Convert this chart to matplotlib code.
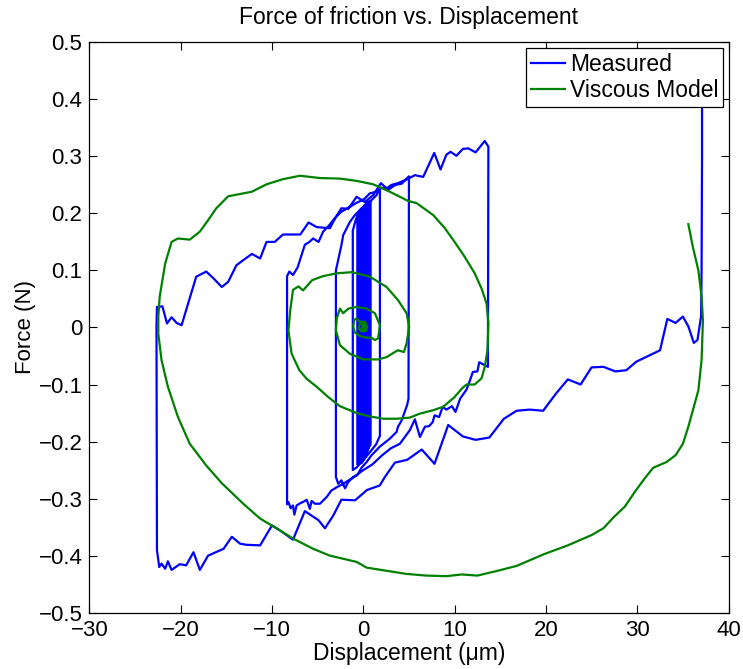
import matplotlib
matplotlib.use('Agg')
import matplotlib.pyplot as plt

plt.rcParams['font.family'] = ['Liberation Sans', 'DejaVu Sans']

# measured friction force (N) vs displacement (um), traced
meas_x = [37.1, 37.1, 37.05, 37.0, 36.6, 36.2, 35.6, 35.0, 34.2, 33.3, 32.5, 30.95, 29.9, 28.8, 27.6, 26.3,
          25.0, 23.8, 22.4, 21.1, 19.7, 18.2, 16.8, 15.4, 13.8, 12.3, 10.9, 9.3, 7.8, 6.4, 4.8, 3.46,
          2.37, 1.8, 0.4, -0.9, -2.4, -3.3, -4.2, -4.9, -6.4, -7.7, -9.1, -10.0, -11.3, -12.8, -13.5, -14.4,
          -15.3, -17.0, -17.9, -18.6, -19.4, -20.1, -21.0, -21.4, -21.7, -22.1, -22.35, -22.6, -22.65, -22.6,
          -22.0, -21.5, -21.0, -20.45, -19.9, -18.3, -17.2, -16.4, -15.5, -14.8, -13.9, -13.15, -12.2, -11.3,
          -10.6, -9.7, -8.8, -6.9, -6.0, -5.1, -3.66, -3.1, -2.4, -1.65, -0.73, 0.18, 1.08, 1.93, 2.55, 3.1,
          3.8, 4.8, 5.65, 6.56, 7.77, 8.46, 9.1, 9.56, 10.2, 10.9, 11.5, 12.3, 13.3, 13.7,
          13.65, 12.7, 12.5, 12.0, 11.7, 11.3, 10.6, 10.1, 9.7, 9.1, 8.7, 8.3, 7.8, 7.6, 7.2, 6.75, 6.2,
          5.65, 5.1, 4.0, 3.0, 2.0, 1.0, 0.0, -1.0, -1.8, -2.4, -2.9, -3.5, -4.0, -4.75, -5.3, -5.66, -5.85,
          -6.2, -6.6, -6.9, -7.3, -7.55, -7.7, -7.95, -8.2, -8.35, -8.35, -8.1, -7.7, -7.2, -6.4, -5.9, -5.5,
          -4.9, -4.4, -3.8, -3.1, -2.4, -1.6, -0.8, 0.1, 0.7, 1.4, 2.0, 2.8, 3.5, 4.2, 5.0,
          4.95, 4.8, 4.2, 3.8, 3.65, 2.9, 1.8, 1.45, 0.9, 0.36, -0.2, -0.67, -1.1, -1.65, -2.0, -2.4, -2.75,
          -3.0, -3.0, -2.75, -2.4, -2.2, -1.47, -0.92, -0.37, 0.36, 0.9, 1.45, 1.82,
          1.82, 1.4, 0.9, 0.4, -0.2, -0.7, -1.15, -1.15, -0.8, -0.3, 0.3, 0.8,
          0.8, 0.3, -0.3, -0.65, -0.65, -0.2, 0.3, 0.6, 0.6, 0.1, -0.5, -0.5, 0.0, 0.5, 0.5, 0.0, -0.4,
          -0.4, 0.1, 0.4, 0.4, -0.3, -0.3, 0.3, 0.3, -0.2, -0.2, 0.2, 0.2, -0.1, -0.1, 0.1, 0.1, 0.0, 0.0]
meas_y = [0.47, 0.30, 0.10, 0.02, -0.022, -0.027, 0.002, 0.019, 0.008, 0.015, -0.04, -0.052, -0.06, -0.075, -0.077, -0.069,
          -0.07, -0.1, -0.091, -0.116, -0.146, -0.144, -0.146, -0.16, -0.193, -0.197, -0.191, -0.171, -0.239, -0.214, -0.232, -0.237,
          -0.262, -0.277, -0.285, -0.303, -0.302, -0.33, -0.352, -0.338, -0.322, -0.372, -0.356, -0.347, -0.382, -0.381, -0.379, -0.367,
          -0.388, -0.4, -0.425, -0.394, -0.417, -0.415, -0.425, -0.41, -0.423, -0.414, -0.42, -0.39, 0.0, 0.036,
          0.037, 0.007, 0.018, 0.008, 0.004, 0.089, 0.098, 0.086, 0.071, 0.08, 0.109, 0.118, 0.129, 0.121,
          0.15, 0.15, 0.163, 0.163, 0.184, 0.176, 0.174, 0.191, 0.209, 0.208, 0.229, 0.22, 0.232, 0.253, 0.244, 0.25,
          0.253, 0.26, 0.267, 0.264, 0.306, 0.277, 0.303, 0.308, 0.301, 0.313, 0.314, 0.307, 0.327, 0.317,
          -0.069, -0.061, -0.077, -0.078, -0.092, -0.109, -0.125, -0.148, -0.138, -0.144, -0.139, -0.157, -0.154, -0.166, -0.173, -0.174, -0.192,
          -0.161, -0.18, -0.204, -0.212, -0.225, -0.24, -0.25, -0.262, -0.27, -0.276, -0.28, -0.286, -0.297, -0.309, -0.309, -0.304, -0.318,
          -0.302, -0.306, -0.308, -0.312, -0.328, -0.312, -0.317, -0.306, -0.31, 0.09, 0.098, 0.092, 0.105, 0.145, 0.15, 0.156,
          0.15, 0.168, 0.178, 0.192, 0.203, 0.21, 0.218, 0.225, 0.235, 0.238, 0.245, 0.242, 0.25, 0.252, 0.265,
          -0.125, -0.136, -0.163, -0.174, -0.183, -0.195, -0.209, -0.215, -0.224, -0.236, -0.246, -0.259, -0.262, -0.271, -0.282, -0.268, -0.274,
          -0.262, 0.10, 0.118, 0.144, 0.162, 0.185, 0.197, 0.206, 0.218, 0.223, 0.232, 0.245,
          -0.19, -0.205, -0.215, -0.225, -0.235, -0.245, -0.25, 0.17, 0.19, 0.205, 0.215, 0.222,
          -0.205, -0.22, -0.235, -0.24, 0.195, 0.205, 0.212, 0.218, -0.21, -0.225, -0.24, 0.2, 0.21, 0.215, -0.215, -0.23, -0.238,
          0.205, 0.212, 0.215, -0.22, -0.238, 0.205, 0.212, -0.225, -0.238, 0.208, 0.212, -0.228, -0.235, 0.208, 0.21, -0.23, -0.232, 0.0]

# viscous model spiral
model_x = [35.6, 36.1, 36.7, 37.05, 37.2, 37.05, 36.7, 36.1, 35.6, 35.0, 34.2, 33.2, 31.75, 30.8, 29.75, 28.65,
           27.4, 26.3, 25.0, 22.4, 19.7, 18.25, 16.8, 14.6, 12.5, 10.8, 9.1, 6.9, 4.7, 0.36, -0.73, -3.66,
           -5.5, -7.7, -9.1, -11.3, -13.15, -15.5, -17.2, -19.0, -20.3, -21.4, -22.1, -22.45, -22.45, -22.3,
           -21.7, -21.0, -20.3, -19.0, -17.9, -17.0, -16.1, -14.8, -12.2, -10.6, -8.8, -6.94, -4.75, -2.56,
           -0.73, 1.08, 2.9, 4.9, 5.84, 7.66, 8.94, 10.0, 11.1, 12.2, 12.96, 13.5, 13.7, 13.6, 13.3, 12.96,
           12.2, 11.3, 10.8, 10.0, 8.75, 7.66, 6.2, 5.1, 3.65, 2.2, 0.72, -0.73, -2.56, -3.84, -5.1, -6.2,
           -7.0, -7.85, -8.2, -8.0, -7.7, -7.1, -6.6, -5.6, -4.4, -2.9, -1.2, 0.72, 2.55, 3.8, 4.74, 5.03,
           4.74, 4.45, 3.8, 3.46, 2.55, 1.63, 0.0, -1.47, -2.56, -3.0, -2.9, -2.56, -2.2, -1.65, -0.73, 0.36,
           1.27, 1.82, 1.63, 1.27, 0.9, 0.36, -0.37, -0.92, -1.1, -1.0, -0.73, -0.4, 0.18, 0.43, 0.3, -0.2,
           -0.5, -0.4, 0.0, 0.25, 0.1, -0.2, -0.1, 0.05]
model_y = [0.181, 0.141, 0.10, 0.054, 0.013, -0.057, -0.11, -0.145, -0.174, -0.204, -0.224, -0.236, -0.246, -0.265, -0.288, -0.314,
           -0.333, -0.352, -0.364, -0.382, -0.398, -0.408, -0.418, -0.427, -0.435, -0.433, -0.436, -0.435, -0.432, -0.421, -0.411, -0.4,
           -0.388, -0.37, -0.356, -0.335, -0.309, -0.273, -0.242, -0.204, -0.157, -0.104, -0.057, -0.011, 0.019, 0.054,
           0.112, 0.15, 0.156, 0.154, 0.168, 0.188, 0.209, 0.23, 0.238, 0.251, 0.26, 0.266, 0.262, 0.261,
           0.257, 0.251, 0.238, 0.222, 0.218, 0.197, 0.174, 0.15, 0.124, 0.095, 0.068, 0.042, 0.007, -0.04, -0.069, -0.089,
           -0.1, -0.1, -0.107, -0.122, -0.139, -0.145, -0.151, -0.158, -0.16, -0.16, -0.156, -0.15, -0.138, -0.122, -0.104, -0.09,
           -0.075, -0.046, -0.005, 0.03, 0.066, 0.072, 0.065, 0.083, 0.09, 0.095, 0.097, 0.089, 0.071, 0.048, 0.025, 0.001,
           -0.028, -0.043, -0.04, -0.043, -0.052, -0.056, -0.056, -0.046, -0.031, -0.005, 0.016, 0.033, 0.025, 0.033, 0.036, 0.033,
           0.025, 0.004, -0.019, -0.022, -0.018, -0.018, -0.015, -0.009, 0.001, 0.013, 0.016, 0.01, 0.01, 0.001, -0.006, -0.007,
           -0.002, 0.006, 0.007, 0.002, -0.004, -0.003, 0.003, 0.0]

xtick_vals = [-30, -20, -10, 0, 10, 20, 30, 40]
xtick_labels = ['\u221230', '\u221220', '\u221210', '0', '10', '20', '30', '40']
ytick_vals = [-0.5, -0.4, -0.3, -0.2, -0.1, 0, 0.1, 0.2, 0.3, 0.4, 0.5]
ytick_labels = ['\u22120.5', '\u22120.4', '\u22120.3', '\u22120.2', '\u22120.1', '0',
                '0.1', '0.2', '0.3', '0.4', '0.5']

fig = plt.figure(figsize=(7.43, 6.69), dpi=100)
ax = fig.add_axes([0.1203, 0.0842, 0.8602, 0.8526])

ax.plot(meas_x, meas_y, color=(0, 0, 1), lw=1.6, label='Measured')
ax.plot(model_x, model_y, color=(0, 0.5, 0), lw=1.6, label='Viscous Model')

ax.set_xlim(-30, 40)
ax.set_ylim(-0.5, 0.5)
ax.set_xticks(xtick_vals)
ax.set_xticklabels(xtick_labels)
ax.set_yticks(ytick_vals)
ax.set_yticklabels(ytick_labels)
ax.tick_params(direction='in', top=True, right=True, length=6, width=0.8,
               labelsize=16, pad=5)
for s in ax.spines.values():
    s.set_linewidth(0.9)

ax.set_title('Force of friction vs. Displacement', fontsize=16.5, pad=13)
ax.set_xlabel('Displacement (\u03bcm)', fontsize=16.5, labelpad=1)
ax.set_ylabel('Force (N)', fontsize=16, labelpad=2)

leg = ax.legend(loc='upper right', fontsize=16.5, fancybox=False, framealpha=1,
                edgecolor='black', handlelength=1.5, handletextpad=0.2,
                borderpad=0.2, labelspacing=0.15, borderaxespad=0.25)
leg.get_frame().set_linewidth(0.9)

fig.savefig('out.png', dpi=100)
